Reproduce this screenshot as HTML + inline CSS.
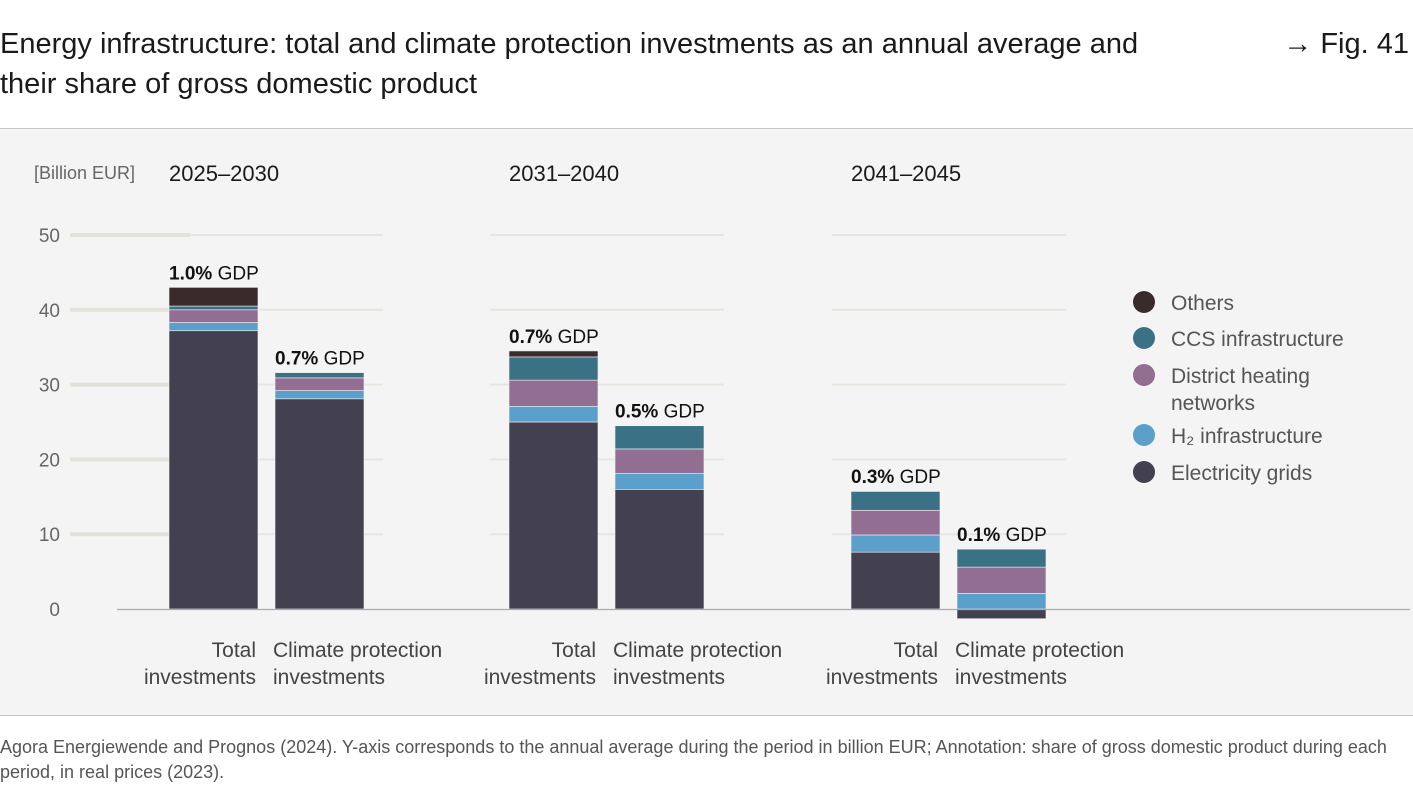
<!DOCTYPE html>
<html><head><meta charset="utf-8"><style>
body{margin:0;width:1413px;height:798px;background:#fff;font-family:"Liberation Sans",sans-serif;overflow:hidden;position:relative}
.t{position:absolute;color:#1a1a1a}
</style></head><body>
<div class="t" style="left:0;top:24px;font-size:29px;line-height:40px;width:1200px">Energy infrastructure: total and climate protection investments as an annual average and their share of gross domestic product</div>
<div class="t" style="right:4px;top:24px;font-size:29px;line-height:40px">→ Fig. 41</div>
<svg id="c" width="1413" height="798" style="position:absolute;left:0;top:0">
<rect x="0" y="129" width="1413" height="586" fill="#f4f4f4"/>
<line x1="0" y1="128.5" x2="1413" y2="128.5" stroke="#c8c8c8"/>
<line x1="0" y1="715.5" x2="1413" y2="715.5" stroke="#c8c8c8"/>
</svg>
<div class="t" style="left:0;top:735px;font-size:18px;line-height:25px;color:#555;width:1400px">Agora Energiewende and Prognos (2024). Y-axis corresponds to the annual average during the period in billion EUR; Annotation: share of gross domestic product during each period, in real prices (2023).</div>
<script>
const periods=["2025–2030","2031–2040","2041–2045"];
const barLabels=["Total investments","Climate protection investments"];
const seriesNames=["Electricity grids","H₂ infrastructure","District heating networks","CCS infrastructure","Others"];
const electricity=[37.2,28.1,25,16,7.6,-1.3];
const h2=[1.1,1.1,2.1,2.1,2.3,2.1];
const districtHeating=[1.7,1.7,3.5,3.3,3.3,3.5];
const ccs=[0.5,0.7,3.1,3.1,2.5,2.4];
const others=[2.5,0,0.8,0,0.1,0];
const gdpShare=["1.0%","0.7%","0.7%","0.5%","0.3%","0.1%"];
const yTicks=[0,10,20,30,40,50];
const colors=["#434050","#5aa0ca","#936e93","#3a7184","#3b2a2b"];
const ns="http://www.w3.org/2000/svg",svg=document.getElementById("c");
const y=v=>609-v*7.48;
const groupX=[169,509,851],barW=89,barGap=106;
function el(t,a,txt){const e=document.createElementNS(ns,t);for(const k in a)e.setAttribute(k,a[k]);if(txt!==undefined)e.textContent=txt;svg.appendChild(e);return e;}
// gridlines
const gridRanges=[[70,383],[490,724],[832,1066]];
yTicks.forEach(t=>{if(t===0)return;
 gridRanges.forEach(r=>{const g=el("line",{x1:r[0],x2:r[1],y1:y(t),y2:y(t),stroke:"#e6e6e0","stroke-width":2});
 
 });
 const s=el("line",{x1:70,x2:190,y1:y(t),y2:y(t),stroke:"#e2e2da","stroke-width":4});
 
 
});
yTicks.forEach(t=>{const e=el("text",{x:60,y:y(t)+7,"text-anchor":"end","font-size":19,fill:"#666"},t);
 
 });
const u=el("text",{x:34,y:179,"font-size":18,fill:"#666"},"[Billion EUR]");


periods.forEach((p,i)=>{const e=el("text",{x:groupX[i],y:181,"font-size":22,fill:"#1a1a1a"},p);
 
 });
const series=[electricity,h2,districtHeating,ccs,others];
for(let b=0;b<6;b++){
 const x=groupX[Math.floor(b/2)]+(b%2)*barGap;
 let pos=0,neg=0,top=0;
 series.forEach((s,k)=>{const v=s[b];if(!v)return;
  let y0,y1;if(v>=0){y0=pos;y1=pos+v;pos=y1;}else{y0=neg+v;y1=neg;neg=y0;}
  const r=el("rect",{x:x,y:y(y1),width:barW,height:y(y0)-y(y1),fill:colors[k],stroke:"#f4f4f4","stroke-width":0.6});
  
  
 });
 top=pos;
 const tx=el("text",{x:x,y:y(top)-8,"font-size":19,fill:"#111"});
 
 
 const b1=document.createElementNS(ns,"tspan");b1.setAttribute("font-weight","bold");b1.textContent=gdpShare[b];tx.appendChild(b1);
 const b2=document.createElementNS(ns,"tspan");b2.textContent=" GDP";tx.appendChild(b2);
 const lbl=barLabels[b%2].split(" ");
 const right=b%2===0;
 const l1=right?"Total":"Climate protection",l2="investments";
 [l1,l2].forEach((s,j)=>{const e=el("text",{x:right?x+barW-2:x-2,y:657+j*27,"text-anchor":right?"end":"start","font-size":21,fill:"#444"},s);
  
  });
}
const ax=el("line",{x1:117,x2:1410,y1:609.5,y2:609.5,stroke:"#aaa","stroke-width":1.3});


const leg=[[4,"Others"],[3,"CCS infrastructure"],[2,"District heating|networks"],[1,"H₂ infrastructure"],[0,"Electricity grids"]];
const legY=[303,339,376,436,473];
leg.forEach((l,i)=>{
 const c=el("circle",{cx:1144,cy:legY[i]-1,r:11,fill:colors[l[0]]});
 
 
 l[1].split("|").forEach((s,j)=>{const t=el("text",{x:1171,y:legY[i]+7+j*27,"font-size":21,fill:"#555"},s);
  
  });
});
</script>
</body></html>
